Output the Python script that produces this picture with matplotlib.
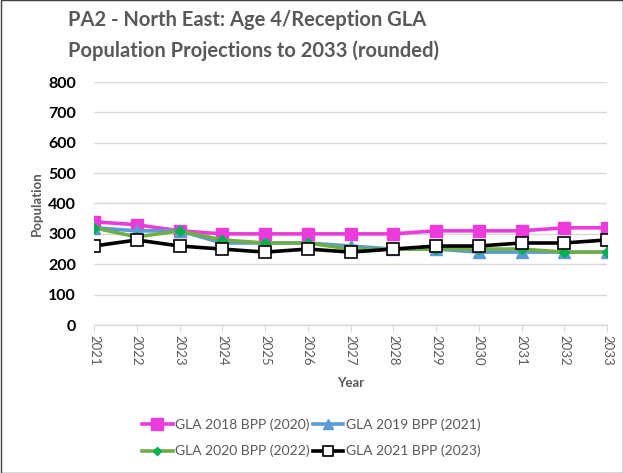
import matplotlib
matplotlib.use("Agg")
import matplotlib.pyplot as plt
from matplotlib.patches import Rectangle

plt.rcParams['font.family'] = ['Lato', 'DejaVu Sans']

years = [str(y) for y in range(2021, 2034)]
gla_2018 = [340, 330, 310, 300, 300, 300, 300, 300, 310, 310, 310, 320, 320]
gla_2019 = [320, 310, 310, 270, 270, 270, 260, 250, 250, 240, 240, 240, 240]
gla_2020 = [320, 290, 310, 280, 270, 270, 250, 250, 250, 250, 250, 240, 240]
gla_2021 = [260, 280, 260, 250, 240, 250, 240, 250, 260, 260, 270, 270, 280]

series = [
    ("GLA 2018 BPP (2020)", gla_2018, dict(color='#EB3BDB', marker='s', markersize=9,
                                            markerfacecolor='#EB3BDB', markeredgecolor='#EB3BDB')),
    ("GLA 2019 BPP (2021)", gla_2019, dict(color='#5B9BD5', marker='^', markersize=8,
                                            markerfacecolor='#5B9BD5', markeredgecolor='#5B9BD5')),
    ("GLA 2020 BPP (2022)", gla_2020, dict(color='#70AD47', marker='D', markersize=5,
                                            markerfacecolor='#00B050', markeredgecolor='#00B050')),
    ("GLA 2021 BPP (2023)", gla_2021, dict(color='black', marker='s', markersize=8,
                                            markerfacecolor='white', markeredgecolor='black',
                                            markeredgewidth=1.2)),
]

fig = plt.figure(figsize=(6.23, 4.73), dpi=100)
ax = fig.add_axes([94 / 623, 1 - 325 / 473, (607 - 94) / 623, (325 - 82) / 473])

x = list(range(len(years)))
handles = []
for label, vals, style in series:
    line, = ax.plot(x, vals, label=label, linewidth=2.6, zorder=3, **style)
    handles.append(line)

ax.set_xlim(0, len(years) - 1)
ax.set_ylim(0, 800)
ax.set_yticks(range(0, 801, 100))
ax.grid(axis='y', color='#D9D9D9', linewidth=1)
ax.set_axisbelow(True)
for s in ['top', 'right', 'left']:
    ax.spines[s].set_visible(False)
ax.spines['bottom'].set_color('#D9D9D9')
ax.spines['bottom'].set_linewidth(1)
ax.spines['bottom'].set_zorder(1)

ax.set_xticks(x)
ax.set_xticklabels(years, rotation=-90, fontsize=9.5, color='#595959')
ax.tick_params(axis='x', length=5, color='#D9D9D9', pad=2)
ax.tick_params(axis='y', length=0, pad=13)
for t in ax.get_yticklabels():
    t.set_fontweight('bold')
    t.set_fontsize(11.5)
    t.set_color('black')

ax.set_xlabel('Year', fontsize=9.5, fontweight='bold', color='#595959', labelpad=8)
ax.set_ylabel('Population', fontsize=9.5, fontweight='bold', color='#595959', labelpad=4)

fig.text(68 / 623, 1 - 10 / 473, 'PA2 - North East: Age 4/Reception GLA\nPopulation Projections to 2033 (rounded)',
         fontsize=14.5, fontweight='bold', color='#595959', ha='left', va='top', linespacing=1.6)

# row-wise order for a 2-column legend
order = [0, 2, 1, 3]
fig.legend([handles[i] for i in order], [series[i][0] for i in order],
           loc='center', bbox_to_anchor=(0.5, 1 - 438 / 473), ncol=2, frameon=False,
           fontsize=10, labelcolor='#595959', handlelength=2.2, handletextpad=0.2,
           columnspacing=0.2, labelspacing=1.0, markerscale=0.9)

fig.add_artist(Rectangle((0.5 / 623, 0.5 / 473), 1 - 1 / 623, 1 - 1 / 473, transform=fig.transFigure,
                         fill=False, edgecolor='#404040', linewidth=1))

fig.savefig('out.png', dpi=100)
